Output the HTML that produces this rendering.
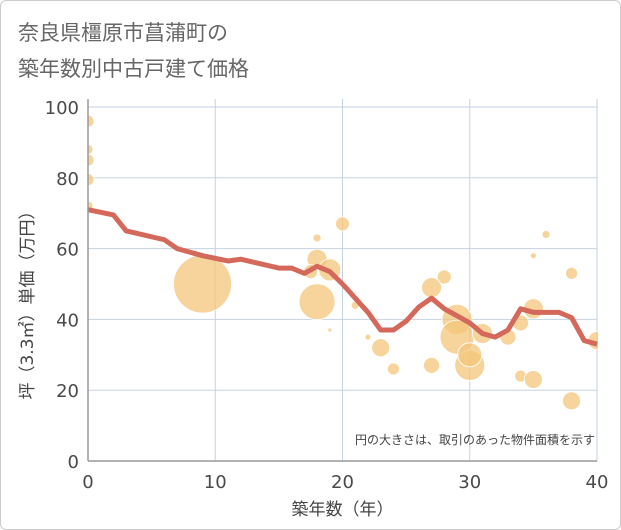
<!DOCTYPE html>
<html><head><meta charset="utf-8"><style>
body{margin:0;background:#fff}
#wrap{position:relative;width:619px;height:528px;border:1px solid #ccc;border-radius:6px;background:#fff;overflow:hidden;font-family:"DejaVu Sans","Noto Sans CJK JP",sans-serif}
#title{position:absolute;left:17px;top:14px;font-size:21px;line-height:36px;color:#666}
svg{position:absolute;left:0;top:0}
</style></head><body>
<div id="wrap">
<div id="title">奈良県橿原市菖蒲町の<br>築年数別中古戸建て価格</div>
<svg id="chart" width="621" height="530" font-family="DejaVu Sans, Noto Sans CJK JP, sans-serif">
<defs><clipPath id="plotclip"><rect x="87" y="90" width="510" height="371"/></clipPath></defs>
</svg>
</div>
<script>
const xTicks=[0,10,20,30,40];
const yTicks=[0,20,40,60,80,100];
const lineYears=[0,2,3,6,7,9,11,12,15,16,17,18,19,20,21,22,23,24,25,26,27,28,29,30,31,32,33,34,35,36,37,38,39,40];
const lineValues=[71,69.5,65,62.5,60,58,56.5,57,54.5,54.5,53,55,53.5,50,46,42,37,37,39.5,43.5,46,43,41,39,36,35,37,43,42,42,42,40.5,34,33];
const bubbleYears=[0,0,0,0,0,9,18,18,18,17.5,19,19,20,21,22,23,24,27,27,28,29,29,30,30,31,33,34,34,35,35,35,36,38,38,40];
const bubbleValues=[96,88,85,79.5,72,50,45,57,63,53.5,54,37,67,44,35,32,26,27,49,52,40,35,27,30,36,35,39,24,43,23,58,64,53,17,34];
const bubbleSizes=[6,5,6,6,5,29,18,10,4,7,11,2,7,4,3,9,6,8,10,7,15,17,15,12,10,8,8,6,10,9,3,4,6,9,9];
const NS="http://www.w3.org/2000/svg";
const svg=document.getElementById('chart');
const X0=87,X1=596,Y0=460,Y1=106;
const sx=v=>X0+(v-0)/40*(X1-X0);
const sy=v=>Y0-(v/100)*(Y0-Y1);
function mk(t,a,p){const e=document.createElementNS(NS,t);for(const k in a)e.setAttribute(k,a[k]);(p||svg).appendChild(e);return e;}
xTicks.forEach(t=>{
 const l=mk('line',{x1:sx(t),x2:sx(t),y1:Y1-8,y2:Y0,stroke:'#c5d2e0','stroke-width':1});
 
 
 const tx=mk('text',{x:sx(t),y:Y0+27,'text-anchor':'middle','font-size':18,fill:'#4a4a4a'});
 tx.textContent=t;
 
 
});
yTicks.forEach(t=>{
 const l=mk('line',{x1:X0,x2:X1,y1:sy(t),y2:sy(t),stroke:'#c5d2e0','stroke-width':1});
 
 
 const tx=mk('text',{x:X0-9,y:sy(t)+7,'text-anchor':'end','font-size':18,fill:'#4a4a4a'});
 tx.textContent=t;
 
 
});
const g=mk('g',{'clip-path':'url(#plotclip)'});


bubbleYears.forEach((yr,i)=>{
 const c=mk('circle',{cx:sx(yr),cy:sy(bubbleValues[i]),r:bubbleSizes[i],fill:'#f3c57a','fill-opacity':0.75,stroke:'#fff','stroke-width':0.8},g);
 
 
});
const pts=lineYears.map((yr,i)=>sx(yr)+','+sy(lineValues[i])).join(' ');
const pl=mk('polyline',{points:pts,fill:'none',stroke:'#d4685a','stroke-width':5,'stroke-linejoin':'round'},g);


const ax=mk('line',{x1:X0,x2:X0,y1:Y1-8,y2:Y0,stroke:'#999','stroke-width':1.5});


const ax2=mk('line',{x1:X0,x2:X1,y1:Y0,y2:Y0,stroke:'#999','stroke-width':1.5});


const note=mk('text',{x:594,y:443,'text-anchor':'end','font-size':12,fill:'#444'});
note.textContent='円の大きさは、取引のあった物件面積を示す';


const xt=mk('text',{x:(X0+X1)/2,y:514,'text-anchor':'middle','font-size':17,fill:'#444'});
xt.textContent='築年数（年）';


const yt=mk('text',{x:0,y:0,'text-anchor':'middle','font-size':17,fill:'#444',transform:'translate(32,300) rotate(-90)'});
yt.textContent='坪（3.3㎡）単価（万円）';


</script>
</body></html>
